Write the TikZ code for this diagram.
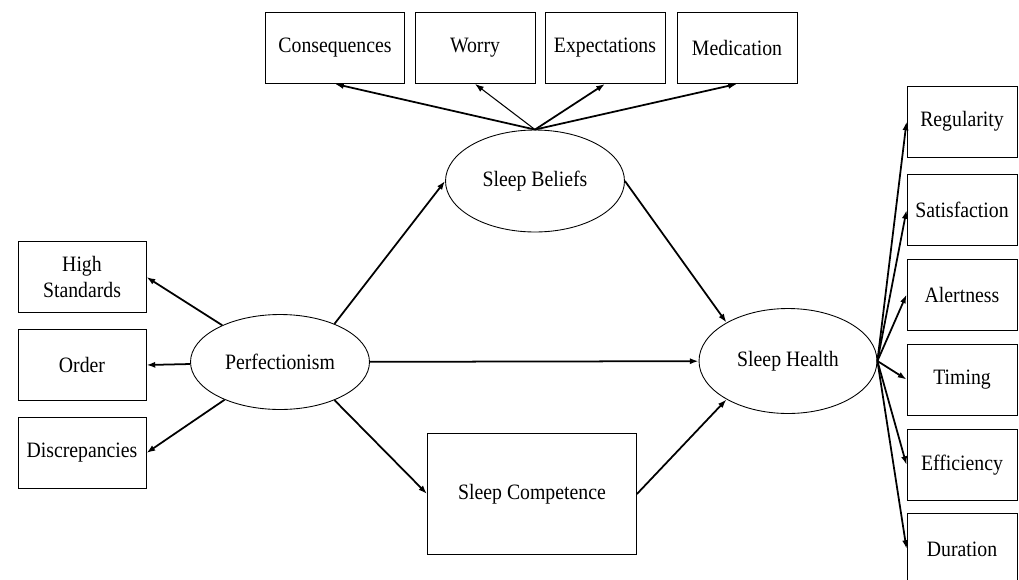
\documentclass[tikz,border=0pt]{standalone}
\usepackage{fontspec}
\setmainfont[FakeStretch=0.9]{Liberation Serif}
\usetikzlibrary{shapes.geometric,arrows.meta}
\tikzset{
  item/.style = {draw, line width=0.5pt, inner sep=0pt, align=center,
    minimum width=2.4cm, minimum height=1.42cm},
  latent/.style = {draw, ellipse, line width=0.5pt, inner sep=0pt,
    minimum width=3.58cm, minimum height=1.9cm},
  link/.style = {->, line width=1pt}
}
\tikzset{>={Latex[length=5pt,width=3.5pt]}}

\begin{document}
\begin{tikzpicture}[x=0.02cm,y=-0.02cm,font=\fontsize{12.5}{14.7}\selectfont]
  \useasboundingbox (0,0) rectangle (1019,579);
  % latent variables
  \node[latent] (perf) at (280,362) {Perfectionism};
  \node[latent, minimum height=2.04cm] (sb) at (535,181) {Sleep Beliefs};
  \node[latent, minimum width=3.56cm, minimum height=2.1cm] (sh) at (788,361) {Sleep Health};
  \node[item, minimum width=4.18cm, minimum height=2.42cm] (sc) at (532,494) {Sleep Competence};
  % perfectionism indicators
  \node[item, minimum width=2.56cm] (hs) at (82,277) {High\\Standards};
  \node[item, minimum width=2.56cm] (order) at (82,365) {Order};
  \node[item, minimum width=2.56cm] (disc) at (82,453) {Discrepancies};
  \foreach \n in {hs,order,disc}
    \draw[link] (perf) -- (\n.east);
  % sleep belief indicators
  \node[item, minimum width=2.78cm] (cons) at (335,48) {Consequences};
  \foreach \n/\x in {Worry/475, Expectations/605, Medication/737}
    \node[item] (\n) at (\x,48) {\n};
  \foreach \n in {cons,Expectations,Medication}
    \draw[link] (sb.north) -- (\n.south);
  \draw[link, line width=0.6pt] (sb.north) -- (Worry.south);
  % sleep health indicators
  \foreach \n/\y in {Regularity/121.5, Satisfaction/210, Alertness/294.5,
                     Timing/379.5, Efficiency/465, Duration/549} {
    \node[item, minimum width=2.2cm] (\n) at (962,\y) {\n};
    \draw[link] (sh.east) -- (\n.west);
  }
  % structural paths
  \draw[link] (perf.35) -- (sb.west);
  \draw[link] (perf) -- (sh);
  \draw[link] (perf.-35) -- (sc.west);
  \draw[link] (sb.east) -- (sh.148);
  \draw[link] (sc.east) -- (sh.212);
\end{tikzpicture}
\end{document}
